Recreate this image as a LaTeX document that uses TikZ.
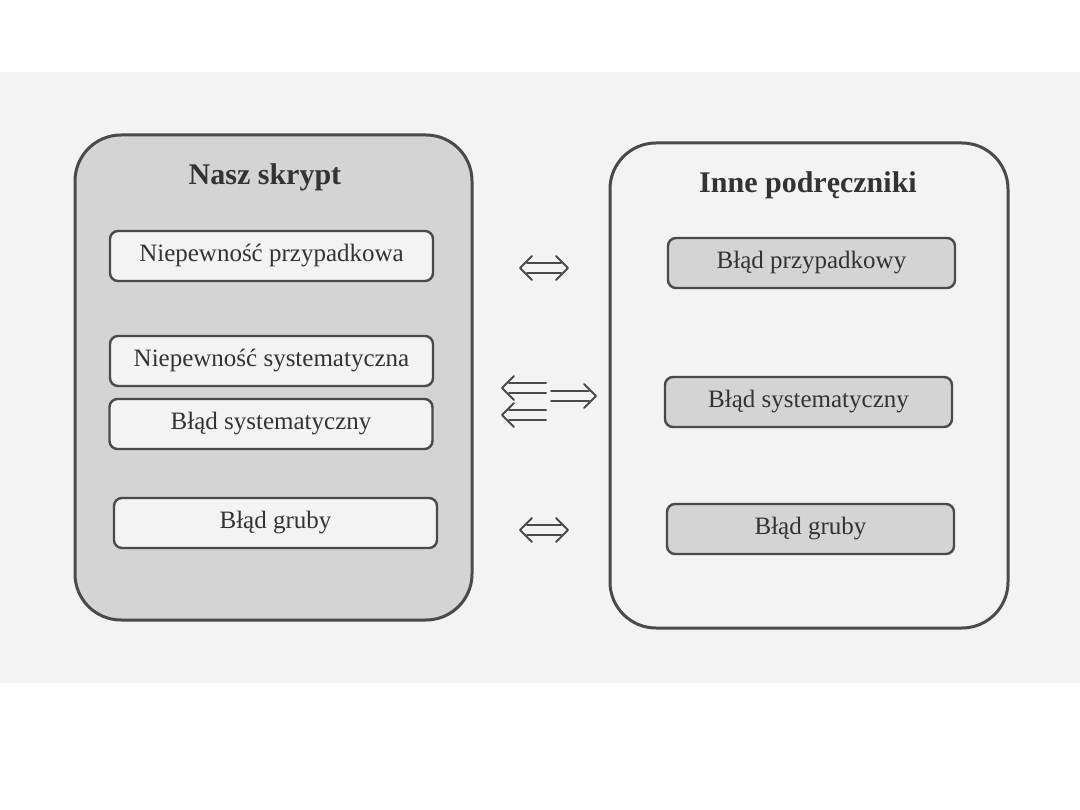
\documentclass[tikz,border=0pt]{standalone}
\usepackage{fontspec}
\setmainfont{Liberation Serif}
\usetikzlibrary{calc}
\definecolor{bandgray}{HTML}{F3F3F3}
\definecolor{boxgray}{HTML}{D4D4D4}
\definecolor{linegray}{HTML}{4A4A4A}
\definecolor{textgray}{HTML}{333333}
\tikzset{
  outerbox/.style={draw=linegray, line width=3pt, rounded corners=46pt, inner sep=0pt},
  innerbox/.style={draw=linegray, line width=2.4pt, rounded corners=8pt, minimum height=50pt,
    text=textgray, font=\fontsize{25}{29}\selectfont, inner sep=0pt},
  leftbox/.style={innerbox, fill=bandgray, minimum width=323pt},
  rightbox/.style={innerbox, fill=boxgray, minimum width=287pt},
  titletext/.style={text=textgray, font=\fontsize{30}{35}\selectfont\bfseries},
  arrowline/.style={draw=linegray, line width=2pt, line cap=round, line join=round}
}
\begin{document}
\begin{tikzpicture}[x=1pt,y=-1pt]
\useasboundingbox (0,0) rectangle (1080,810);
\fill[white] (0,0) rectangle (1080,810);
\fill[bandgray] (0,72) rectangle (1080,683);

% outer boxes
\node[outerbox, fill=boxgray, minimum width=397pt, minimum height=485pt] (L) at (273.5,377.5) {};
\node[outerbox, fill=bandgray, minimum width=398pt, minimum height=485pt] (R) at (809,385.5) {};

% titles
\node[titletext] (Lt) at (265,177) {Nasz skrypt};
\node[titletext] (Rt) at (808,185) {Inne podręczniki};

% left inner boxes
\node[leftbox] (L1) at (271.5,256) {Niepewność przypadkowa};
\node[leftbox] (L2) at (271.5,361) {Niepewność systematyczna};
\node[leftbox] (L3) at (271,424) {Błąd systematyczny};
\node[leftbox] (L4) at (275.5,523) {Błąd gruby};

% right inner boxes
\node[rightbox] (R1) at (811.5,263) {Błąd przypadkowy};
\node[rightbox] (R2) at (808.5,402) {Błąd systematyczny};
\node[rightbox] (R3) at (810.5,529) {Błąd gruby};

% arrows (double-line arrows with open chevron heads)
\coordinate (a1l) at (520,268); \coordinate (a1r) at (568,268);
\coordinate (a3l) at (520,530); \coordinate (a3r) at (568,530);
\coordinate (b1s) at (546,388); \coordinate (b1e) at (502,388);
\coordinate (b2s) at (546,415); \coordinate (b2e) at (502,415);
\coordinate (c1s) at (551,396); \coordinate (c1e) at (596,396);

% both-way arrows
\foreach \l/\r in {a1l/a1r, a3l/a3r}{
  \draw[arrowline] ($(\l)+(7,-5)$) -- ($(\r)+(-7,-5)$);
  \draw[arrowline] ($(\l)+(7,5)$) -- ($(\r)+(-7,5)$);
  \draw[arrowline] ($(\l)+(12,-12)$) -- (\l) -- ($(\l)+(12,12)$);
  \draw[arrowline] ($(\r)+(-12,-12)$) -- (\r) -- ($(\r)+(-12,12)$);
}
% left-pointing arrows
\foreach \s/\e in {b1s/b1e, b2s/b2e}{
  \draw[arrowline] ($(\s)+(0,-5)$) -- ($(\e)+(7,-5)$);
  \draw[arrowline] ($(\s)+(0,5)$) -- ($(\e)+(7,5)$);
  \draw[arrowline] ($(\e)+(12,-12)$) -- (\e) -- ($(\e)+(12,12)$);
}
% right-pointing arrow
\draw[arrowline] ($(c1s)+(0,-5)$) -- ($(c1e)+(-7,-5)$);
\draw[arrowline] ($(c1s)+(0,5)$) -- ($(c1e)+(-7,5)$);
\draw[arrowline] ($(c1e)+(-12,-12)$) -- (c1e) -- ($(c1e)+(-12,12)$);
\end{tikzpicture}
\end{document}
